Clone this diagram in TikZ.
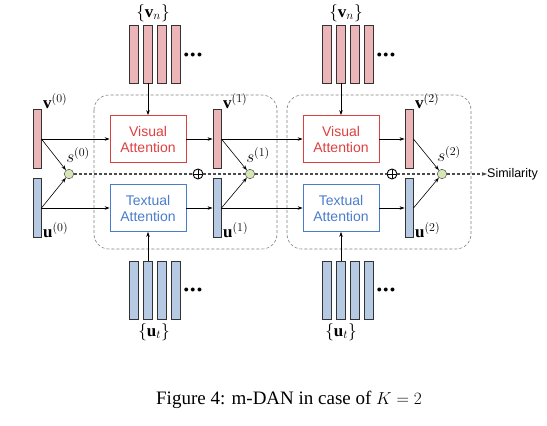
\documentclass[tikz,border=0pt]{standalone}
\usepackage{amsmath}
\usepackage{fontspec}
\setmainfont{Liberation Serif}
\newfontfamily\arial{Liberation Sans}
\usetikzlibrary{arrows.meta,positioning}
\definecolor{vpink}{RGB}{236,182,184}
\definecolor{ublue}{RGB}{182,202,228}
\definecolor{attred}{RGB}{220,64,64}
\definecolor{attblue}{RGB}{74,124,204}
\definecolor{sgreen}{RGB}{214,230,182}

\begin{document}
\begin{tikzpicture}[x=1pt,y=-1pt,>={Stealth[length=5pt,width=3.5pt]},
  featbar/.style={draw=black!80,line width=0.9pt,minimum width=8pt,minimum height=59pt,inner sep=0pt},
  vbar/.style={featbar,fill=vpink},
  ubar/.style={featbar,fill=ublue},
  attn/.style={draw,line width=0.7pt,minimum width=76pt,minimum height=47pt,inner sep=1pt,align=center,font=\arial\fontsize{14}{16}\selectfont},
  score/.style={circle,draw=black!80,fill=sgreen,minimum size=9.5pt,inner sep=0pt},
  plusnode/.style={circle,draw,line width=0.9pt,fill=white,minimum size=10pt,inner sep=0pt,
    path picture={\draw[line width=0.9pt] (path picture bounding box.north) -- (path picture bounding box.south)
      (path picture bounding box.west) -- (path picture bounding box.east);}},
  lab/.style={font=\fontsize{17}{19}\selectfont,inner sep=1pt},
  dots/.style={font=\fontsize{10}{12}\selectfont,inner sep=0pt},
  flow/.style={line width=0.6pt},
  simline/.style={dashed,dash pattern=on 3pt off 2pt,line width=1.3pt,black!70},
  group/.style={dashed,dash pattern=on 3pt off 2pt,gray,line width=0.6pt,rounded corners=15pt}]
\useasboundingbox (0,0) rectangle (547,426);
%\draw[help lines] (0,0) grid[step=50] (547,426);
% the two K steps
\draw[group] (94,95) rectangle (277,249);
\draw[group] (287,95) rectangle (471,249);
% feature bars
\node[vbar] (v0) at (37,139) {};
\node[ubar] (u0) at (37,208) {};
\node[vbar] (v1) at (217,139) {};
\node[ubar] (u1) at (217,208) {};
\node[vbar] (v2) at (409,139) {};
\node[ubar] (u2) at (409,208) {};
\node[lab,anchor=west] (v0lab) at (42,101) {$\mathbf{v}^{(0)}$};
\node[lab,anchor=west] (u0lab) at (42,230) {$\mathbf{u}^{(0)}$};
\node[lab,anchor=west] (v1lab) at (222,101) {$\mathbf{v}^{(1)}$};
\node[lab,anchor=west] (u1lab) at (222,230) {$\mathbf{u}^{(1)}$};
\node[lab,anchor=west] (v2lab) at (414,101) {$\mathbf{v}^{(2)}$};
\node[lab,anchor=west] (u2lab) at (414,230) {$\mathbf{u}^{(2)}$};
% attention blocks
\node[attn,draw=attred,text=attred] (va1) at (148,139) {Visual\\Attention};
\node[attn,draw=attblue,text=attblue] (ta1) at (148,208) {Textual\\Attention};
\node[attn,draw=attred,text=attred] (va2) at (341,139) {Visual\\Attention};
\node[attn,draw=attblue,text=attblue] (ta2) at (341,208) {Textual\\Attention};
% memory bars
\foreach \x [count=\i] in {134,148,162,176} {
  \node[vbar,minimum width=9pt,minimum height=58pt] (vna\i) at (\x,54) {};
  \node[ubar,minimum width=9pt,minimum height=58pt] (uta\i) at (\x,290) {};
}
\foreach \x [count=\i] in {327,341,355,369} {
  \node[vbar,minimum width=9pt,minimum height=58pt] (vnb\i) at (\x,54) {};
  \node[ubar,minimum width=9pt,minimum height=58pt] (utb\i) at (\x,290) {};
}
\node[dots] (vnadots) at (193,55) {$\bullet\mkern-1mu\bullet\mkern-1mu\bullet$};
\node[dots] (vnbdots) at (386,55) {$\bullet\mkern-1mu\bullet\mkern-1mu\bullet$};
\node[dots] (utadots) at (193,290) {$\bullet\mkern-1mu\bullet\mkern-1mu\bullet$};
\node[dots] (utbdots) at (386,290) {$\bullet\mkern-1mu\bullet\mkern-1mu\bullet$};
\node[lab] (vnalab) at (153,13) {$\{\mathbf{v}_n\}$};
\node[lab] (vnblab) at (346,13) {$\{\mathbf{v}_n\}$};
\node[lab] (utalab) at (154,332) {$\{\mathbf{u}_t\}$};
\node[lab] (utblab) at (341,332) {$\{\mathbf{u}_t\}$};
% similarity scores
\node[score] (s0) at (69,174) {};
\node[score] (s1) at (250,174) {};
\node[score] (s2) at (442,174) {};
\node[lab] (s0lab) at (78,155) {$s^{(0)}$};
\node[lab] (s1lab) at (258,155) {$s^{(1)}$};
\node[lab] (s2lab) at (449,154) {$s^{(2)}$};
\node[plusnode] (p1) at (198,174) {};
\node[plusnode] (p2) at (392,174) {};
\node[anchor=west,inner sep=0pt,font=\arial\fontsize{12.5}{14}\selectfont] (sim) at (487,174) {Similarity};
% connectors
\draw[->,flow] (vna2) -- (va1);
\draw[->,flow] (vnb2) -- (va2);
\draw[->,flow] (uta2) -- (ta1);
\draw[->,flow] (utb2) -- (ta2);
\draw[->,flow] (v0.east) -- (va1.west);
\draw[->,flow] (va1.east) -- (v1.west);
\draw[->,flow] (v1.east) -- (va2.west);
\draw[->,flow] (va2.east) -- (v2.west);
\draw[->,flow] (u0.east) -- (ta1.west);
\draw[->,flow] (ta1.east) -- (u1.west);
\draw[->,flow] (u1.east) -- (ta2.west);
\draw[->,flow] (ta2.east) -- (u2.west);
\foreach \k in {0,1,2} {
  \draw[->,flow] (v\k.east) -- (s\k);
  \draw[->,flow] (u\k.east) -- (s\k);
}
\draw[simline] (s0) -- (p1) -- (s1) -- (p2) -- (s2);
\draw[simline,->] (s2) -- (sim);
\node[font=\fontsize{19}{22}\selectfont] (caption) at (289,400) {Figure 4: m-DAN in case of $K=2$};
\end{tikzpicture}
\end{document}
